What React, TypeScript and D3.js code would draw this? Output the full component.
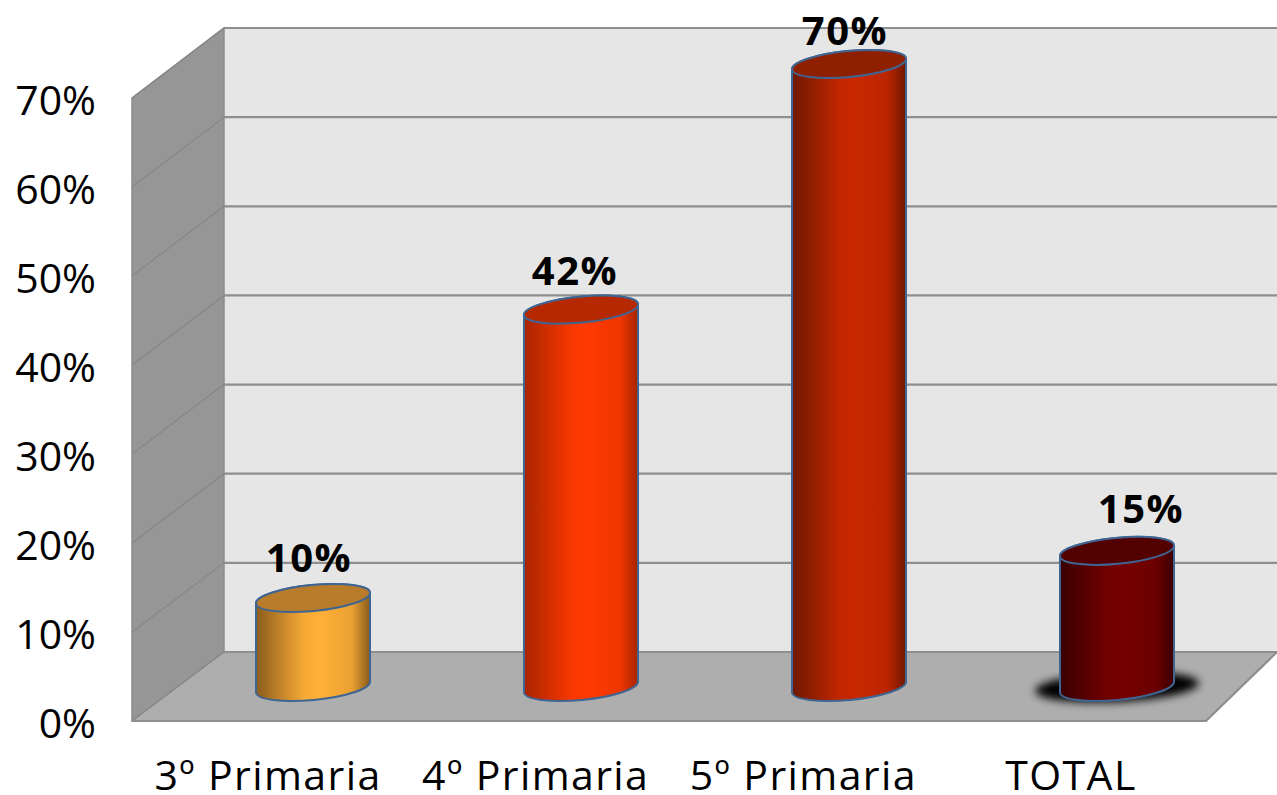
import React from "react";
import * as d3 from "d3";

const categories = ["3º Primaria", "4º Primaria", "5º Primaria", "TOTAL"];
const values = [10, 42.4, 70, 15.3];
const labels = ["10%", "42%", "70%", "15%"];
const colorsMid = ["#ffb038", "#ff3a00", "#c92800", "#760000"];
const colorsEdge = ["#8a5c1c", "#a82400", "#6e1800", "#3a0000"];
const colorsTop = ["#b87c2a", "#b52800", "#8e2000", "#520000"];
const ticks = [0, 10, 20, 30, 40, 50, 60, 70];

const W = 1277, H = 795;
const font = "'Open Sans','DejaVu Sans',sans-serif";
const frontX0 = 132, backX0 = 224, frontX1 = 1206, backX1 = 1277;
const labelDx = [-4, -6, -4, 24];
const labelDy = [-26, -25, -19, -28];
const yFront = d3.scaleLinear().domain([0, 70]).range([721, 98]);
const yBack = d3.scaleLinear().domain([0, 70]).range([652, 28]);
const yBar = d3.scaleLinear().domain([0, 70]).range([687, 64]);
const x = d3.scaleBand<string>().domain(categories).range([256, 1174]).paddingInner(1 - 114 / 268).paddingOuter(0);
const xLabel = d3.scalePoint<string>().domain(categories).range([268, 1071]);
const line = d3.line();

export default function App() {
  const bw = x.bandwidth();
  const rx = bw / 2, ry = 13, tilt = -5.5;
  const rad = (tilt * Math.PI) / 180;
  const slope = Math.tan(rad) * rx;
  const erx = rx / Math.cos(rad);
  const totalCx = (x("TOTAL") ?? 0) + rx;
  return (
    <svg width={W} height={H} style={{ position: "absolute", left: 0, top: 0, background: "#fff" }}>
      <defs>
        {categories.map((_, i) => (
          <linearGradient id={`g${i}`} key={i} x1="0" x2="1" y1="0" y2="0">
            <stop offset="0" stopColor={colorsEdge[i]} />
            <stop offset="0.42" stopColor={d3.interpolateRgb(colorsEdge[i], colorsMid[i])(0.92)} />
            <stop offset="0.56" stopColor={colorsMid[i]} />
            <stop offset="0.84" stopColor={d3.interpolateRgb(colorsEdge[i], colorsMid[i])(0.82)} />
            <stop offset="1" stopColor={colorsEdge[i]} />
          </linearGradient>
        ))}
        <filter id="blur" x="-30%" y="-80%" width="160%" height="260%">
          <feGaussianBlur stdDeviation="4" />
        </filter>
      </defs>
      <polygon
        points={`${backX0},${yBack(70)} ${W},${yBack(70)} ${W},${yBack(0)} ${backX0},${yBack(0)}`}
        fill="#e6e6e6"
      />
      <polygon
        points={`${frontX0},${yFront(70)} ${backX0},${yBack(70)} ${backX0},${yBack(0)} ${frontX0},${yFront(0)}`}
        fill="#969696"
        stroke="#8c8c8c"
        strokeWidth={1.5}
      />
      <polygon
        points={`${frontX0},${yFront(0)} ${backX0},${yBack(0)} ${backX1},${yBack(0)} ${frontX1},${yFront(0)}`}
        fill="#aeaeae"
      />
      {ticks.map((t) => (
        <g key={t} fill="none">
          <path d={line([[backX0, yBack(t)], [W, yBack(t)]]) ?? ""} stroke="#8e8e8e" strokeWidth={2.2} />
          <path d={line([[frontX0, yFront(t)], [backX0, yBack(t)]]) ?? ""} stroke="#868686" strokeWidth={1.2} />
        </g>
      ))}
      <path
        d={line([[frontX0, yFront(0)], [frontX1, yFront(0)], [backX1, yBack(0)]]) ?? ""}
        fill="none"
        stroke="#8e8e8e"
        strokeWidth={2.2}
      />
      {ticks.map((t) => (
        <text key={t} x={96} y={yFront(t) + 17} textAnchor="end" fontFamily={font} fontSize={41} fill="#000">
          {t}%
        </text>
      ))}
      <ellipse
        cx={totalCx}
        cy={yBar(0)}
        rx={82}
        ry={15}
        transform={`rotate(${tilt / 2} ${totalCx} ${yBar(0)})`}
        fill="#050505"
        filter="url(#blur)"
      />
      {categories.map((c, i) => {
        const cx = (x(c) ?? 0) + rx;
        const yT = yBar(values[i]);
        const yB = yBar(0);
        const left = cx - rx, right = cx + rx;
        const d =
          `M${left},${yT - slope} L${left},${yB - slope} ` +
          `A${erx},${ry},${tilt},0,0,${right},${yB + slope} ` +
          `L${right},${yT + slope} ` +
          `A${erx},${ry},${tilt},0,0,${left},${yT - slope} Z`;
        return (
          <g key={c}>
            <path d={d} fill={`url(#g${i})`} stroke="#3f6593" strokeWidth={2} />
            <ellipse
              cx={cx}
              cy={yT}
              rx={erx}
              ry={ry}
              transform={`rotate(${tilt} ${cx} ${yT})`}
              fill={colorsTop[i]}
              stroke="#3f6593"
              strokeWidth={2}
            />
            <text
              x={cx + labelDx[i]}
              y={yT + labelDy[i]}
              textAnchor="middle"
              fontFamily={font}
              fontWeight={700}
              fontSize={40}
              letterSpacing={1.5}
              fill="#000"
            >
              {labels[i]}
            </text>
            <text
              x={xLabel(c)}
              y={790}
              textAnchor="middle"
              fontFamily={font}
              fontSize={41}
              letterSpacing={1.4}
              fill="#000"
            >
              {c}
            </text>
          </g>
        );
      })}
    </svg>
  );
}
